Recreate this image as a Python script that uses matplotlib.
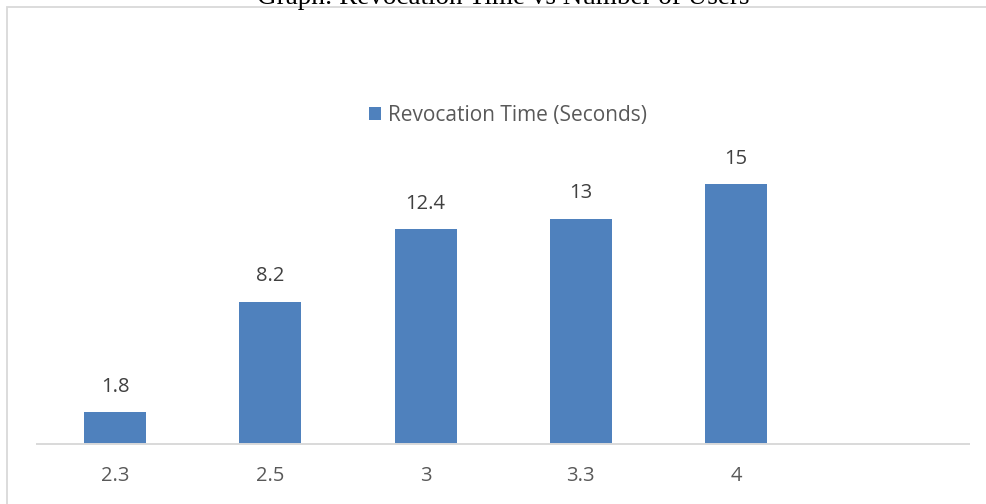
import matplotlib
matplotlib.use("Agg")
import matplotlib.pyplot as plt
from matplotlib.patches import Rectangle, Patch

# Data
categories = ["2.3", "2.5", "3", "3.3", "4", ""]
revocation_time = [1.8, 8.2, 12.4, 13, 15, None]
value_labels = ["1.8", "8.2", "12.4", "13", "15"]

W, H, DPI = 987, 504, 100
fig = plt.figure(figsize=(W / DPI, H / DPI), dpi=DPI)
fig.patch.set_facecolor("white")

# Chart-area border (extends past the right and bottom edges)
fig.patches.append(Rectangle((7.5 / W, -0.1), 1.2, 1.1 - 7.5 / H,
                             transform=fig.transFigure, fill=False,
                             edgecolor="#d9d9d9", linewidth=1.3, zorder=0))

# Title (partially above the top edge)
fig.text(503 / W, 1 - 3.5 / H, "Graph: Revocation Time vs Number of Users",
         ha="center", va="baseline", fontsize=19.5, family="Liberation Serif",
         color="#000000")

left, right = 37.5, 969
base, top = 443.5, 443.5 - 16 * 17.27
ax = fig.add_axes([left / W, 1 - base / H, (right - left) / W, (base - top) / H])
ax.set_facecolor("none")

xs = list(range(len(categories)))
vals = [v for v in revocation_time if v is not None]
bar_color = "#4f81bd"
bars = ax.bar(xs[:len(vals)], vals, width=0.4, color=bar_color, zorder=2)

for b, lab in zip(bars, value_labels):
    ax.annotate(lab, (b.get_x() + b.get_width() / 2, b.get_height()),
                xytext=(0, 15), textcoords="offset points", ha="center",
                va="baseline", fontsize=14.5, family="Open Sans", color="#404040")

ax.set_xlim(-0.5, len(categories) - 0.5)
ax.set_ylim(0, 16)
ax.set_xticks(xs)
ax.set_xticklabels(categories, fontsize=14.5, family="Open Sans", color="#595959")
ax.tick_params(axis="x", length=0, pad=16)
ax.set_yticks([])
for s in ["top", "right", "left"]:
    ax.spines[s].set_visible(False)
ax.spines["bottom"].set_color("#d9d9d9")
ax.spines["bottom"].set_linewidth(1.4)

handle = Patch(facecolor=bar_color, edgecolor="none")
fig.legend([handle], ["Revocation Time (Seconds)"],
           loc="center", bbox_to_anchor=(508 / W, 1 - 115 / H),
           frameon=False, prop={"family": "Open Sans", "size": 15},
           handlelength=0.6, handleheight=0.6, handletextpad=0.35,
           labelcolor="#595959")

fig.savefig("out.png", dpi=DPI)
